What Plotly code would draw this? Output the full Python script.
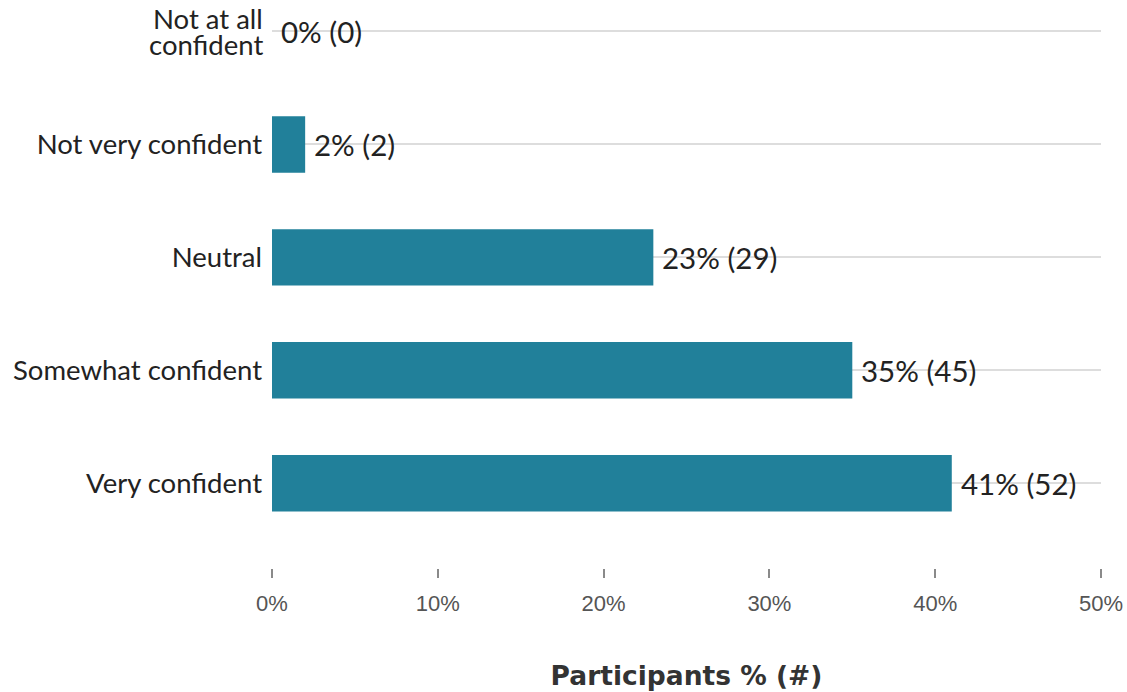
import plotly.graph_objects as go

categories = ["Very confident", "Somewhat confident", "Neutral", "Not very confident", "Not at all confident"]
tick_text = ["Very confident", "Somewhat confident", "Neutral", "Not very confident", ""]
wrapped_label_lines = ["Not at all", "confident"]
percents = [41, 35, 23, 2, 0]
counts = [52, 45, 29, 2, 0]
x_ticks = [0, 10, 20, 30, 40, 50]

labels = [f"{p}% ({c})" for p, c in zip(percents, counts)]
label_font = dict(family="Lato", size=27.5, color="#222222")

fig = go.Figure()
fig.add_trace(go.Bar(
    y=categories, x=percents, orientation="h",
    marker=dict(color="#21809a", line=dict(width=0)),
    width=0.5,
    hoverinfo="skip",
))
for cat, p, lab in zip(categories, percents, labels):
    fig.add_annotation(x=p, y=cat, text=lab, showarrow=False, xanchor="left",
                       xshift=7, font=dict(family="Lato", size=29.5, color="#222222"))

# two-line category label with tight line spacing
for line, shift in zip(wrapped_label_lines, [13, -13]):
    fig.add_annotation(xref="paper", x=0, y=categories[-1], text=line, showarrow=False,
                       xanchor="right", xshift=-7, yshift=shift, font=label_font)

fig.update_layout(
    width=1127, height=692,
    margin=dict(l=272, r=26, t=10, b=124),
    plot_bgcolor="white", paper_bgcolor="white",
    showlegend=False,
    xaxis=dict(
        range=[0, 50], tickvals=x_ticks, ticktext=[f"{v}%" for v in x_ticks],
        showgrid=False, zeroline=False, showline=False, automargin=False,
        ticks="outside", ticklen=9, tickwidth=2, tickcolor="#8a8a8a",
        ticklabelstandoff=7,
        tickfont=dict(family="Liberation Sans, Arial", size=22, color="#555555"),
        title=dict(text="<b>Participants % (#)</b>", standoff=51,
                   font=dict(family="DejaVu Sans", size=26.5, color="#333333")),
    ),
    yaxis=dict(
        range=[-0.75, 4.19], automargin=False,
        categoryorder="array", categoryarray=categories,
        tickvals=categories, ticktext=tick_text,
        showgrid=True, gridcolor="#dddddd", gridwidth=2,
        zeroline=False, showline=False, ticks="",
        ticklabelstandoff=9,
        tickfont=label_font,
    ),
)

fig.write_html("out.html")
